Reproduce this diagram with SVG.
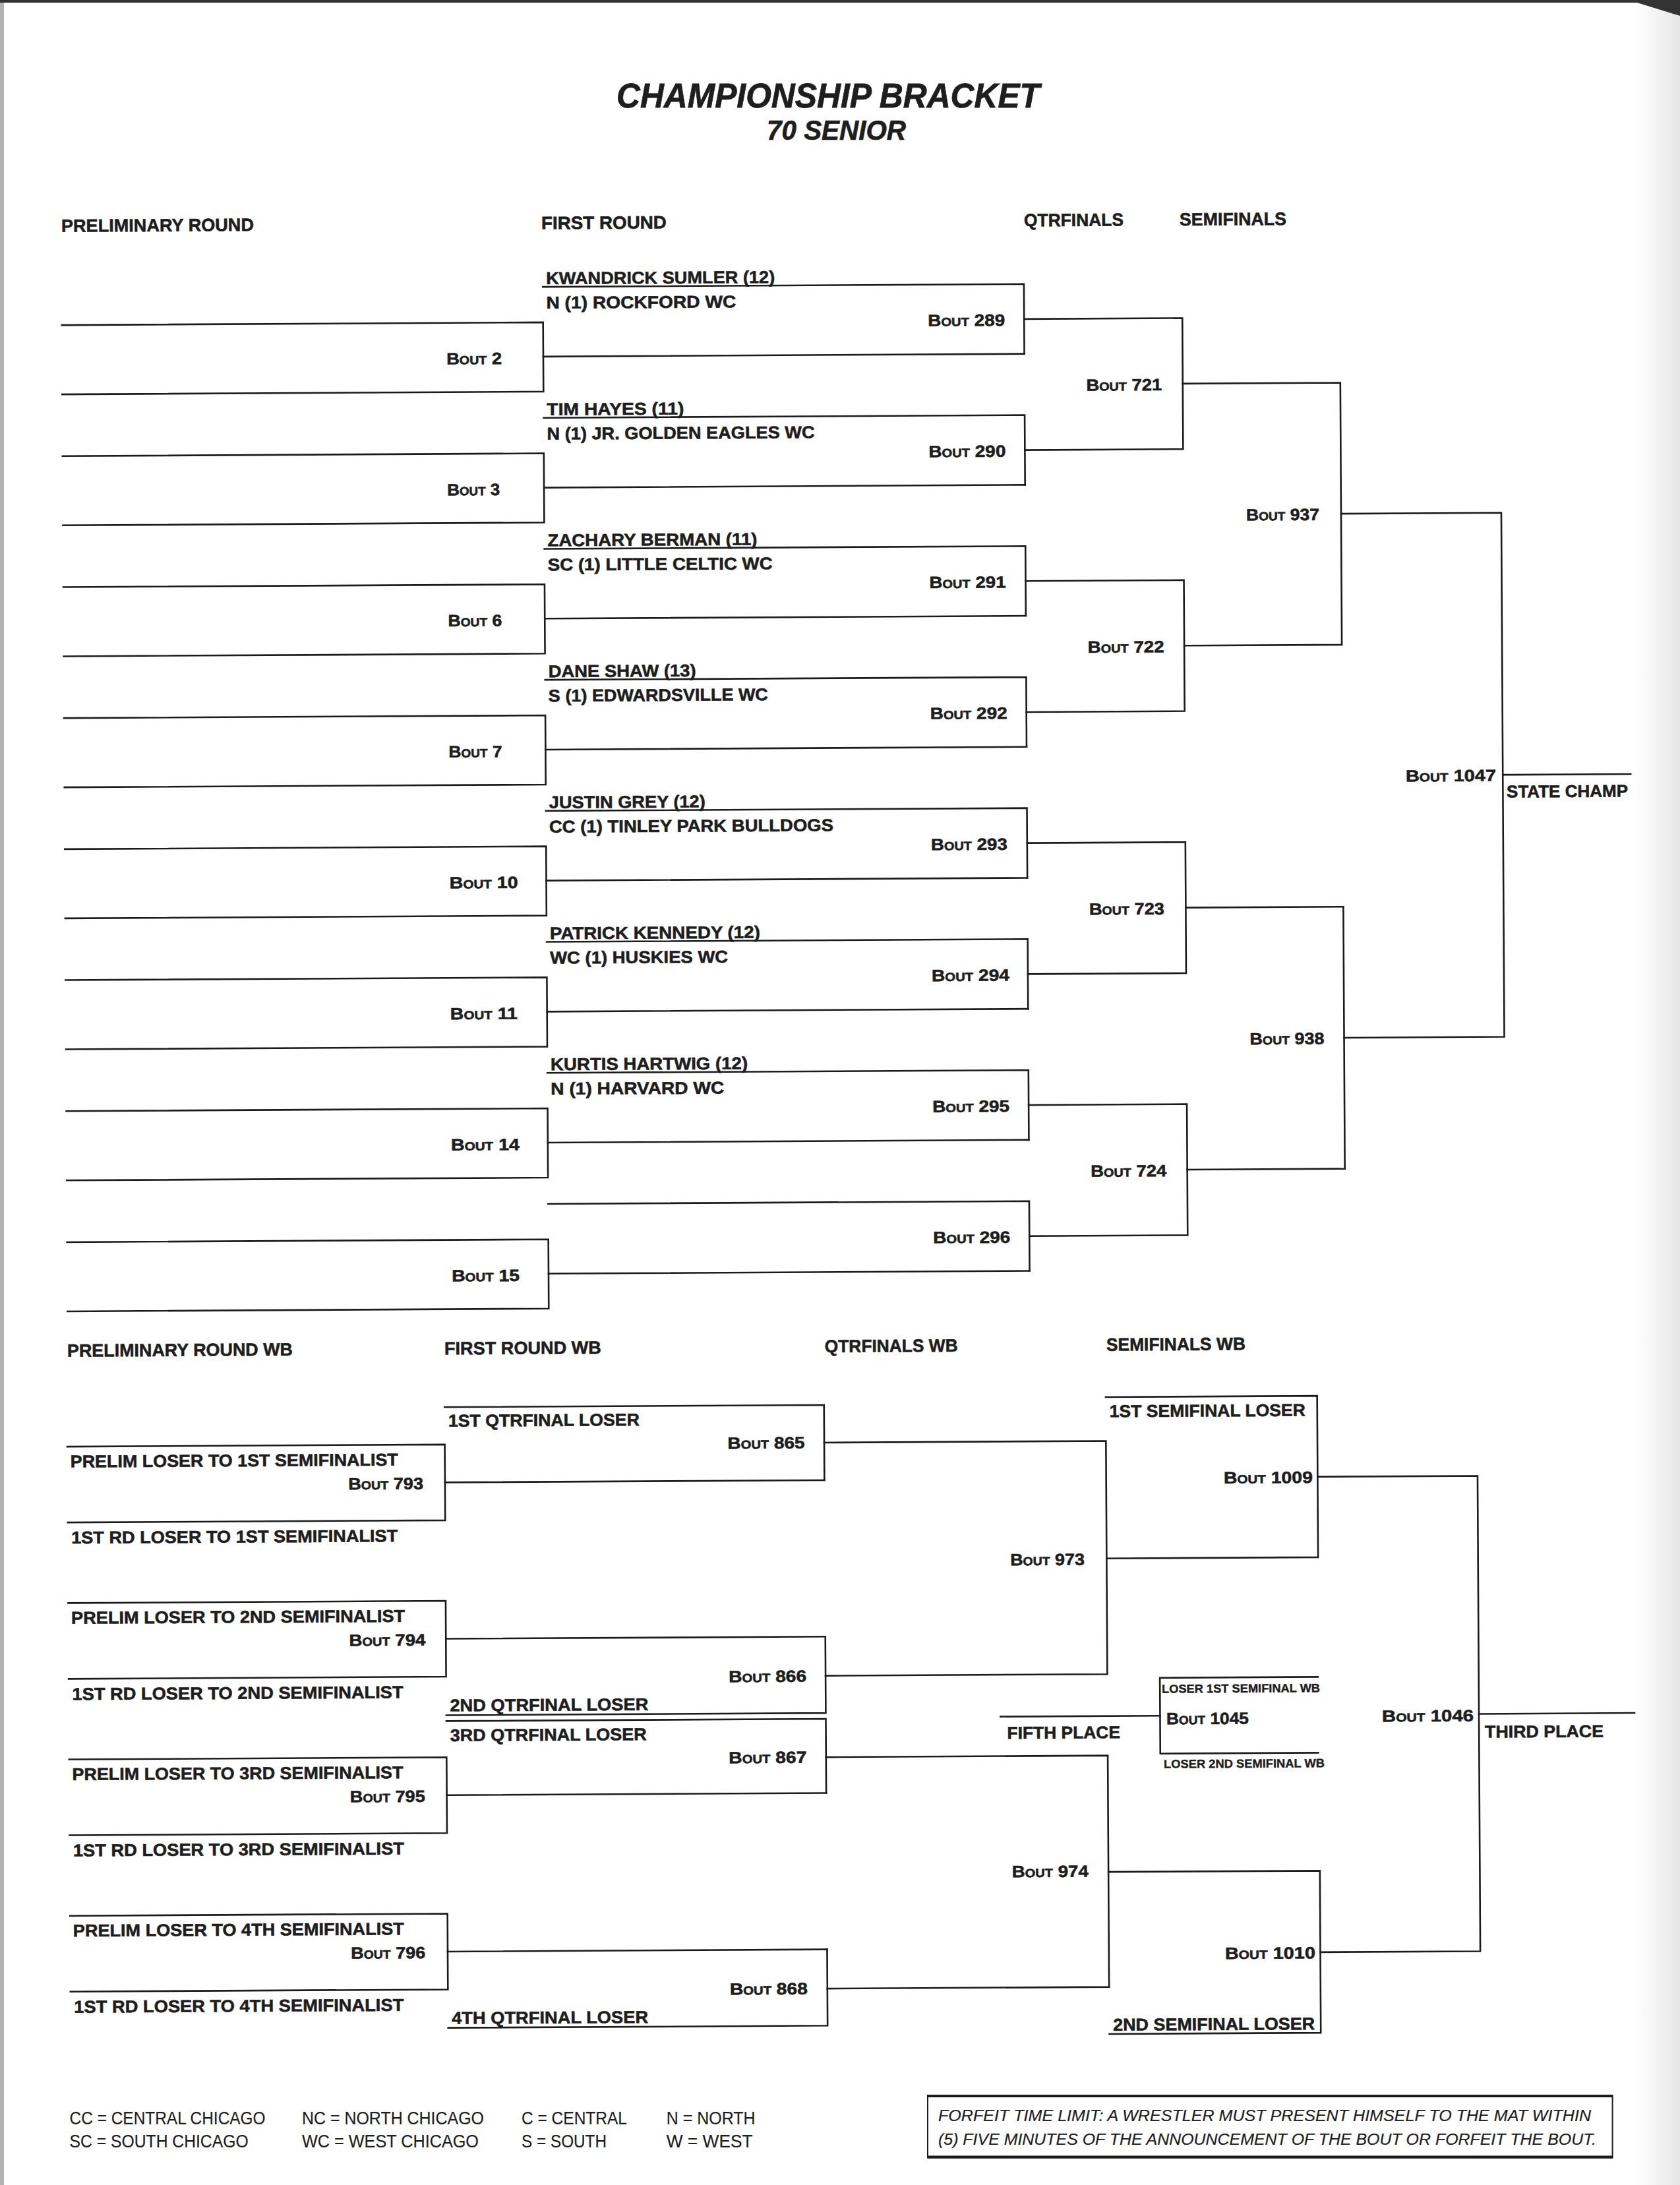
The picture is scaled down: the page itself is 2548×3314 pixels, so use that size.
<svg xmlns="http://www.w3.org/2000/svg" width="2548" height="3314" viewBox="0 0 2548 3314">
<defs>
<linearGradient id="rg" x1="0" y1="0" x2="1" y2="0"><stop offset="0" stop-color="#ffffff"/><stop offset="1" stop-color="#e6e6e6"/></linearGradient>
<style>
.l{fill:none;stroke:#1b1b1b;stroke-width:2.6;stroke-linecap:square;stroke-linejoin:miter}
text{font-family:"Liberation Sans Narrow","Liberation Sans",Arial,sans-serif;font-weight:700;fill:#1e1e1e;stroke:#1e1e1e;stroke-width:0.6}
.h{font-size:27px}
.n{font-size:26px}
.b{font-size:25px;font-variant:small-caps}
.s{font-size:18px;stroke-width:0.4}
.ti{font-size:51px;font-style:italic;stroke-width:0.8}
.st{font-size:42px;font-style:italic;stroke-width:0.7}
.f{font-size:27px;font-weight:400;stroke-width:0.2}
.fi{font-size:23px;font-weight:400;font-style:italic;stroke-width:0.2}
</style>
</defs>
<rect width="2548" height="3314" fill="#ffffff"/>
<rect x="2480" y="0" width="68" height="3314" fill="url(#rg)"/>
<rect x="0" y="0" width="6" height="3314" fill="#b3b3b3"/>
<rect x="0" y="0" width="2548" height="4" fill="#333333"/>
<polygon points="2470,0 2548,0 2548,24" fill="#333333"/>

<g id="title">
<text class="ti" x="935" y="163" textLength="642" lengthAdjust="spacingAndGlyphs">CHAMPIONSHIP BRACKET</text>
<text class="st" x="1163" y="212" textLength="211" lengthAdjust="spacingAndGlyphs">70 SENIOR</text>
</g>

<g id="page" transform="rotate(-0.33 1274 1657)">
<g id="connectors">
<path class="l" d="M100.4 486.3H830.4V591.3H100.4"/>
<path class="l" d="M100.4 685H830.4V790H100.4"/>
<path class="l" d="M100.4 883.7H830.4V988.7H100.4"/>
<path class="l" d="M100.4 1082.4H830.4V1187.4H100.4"/>
<path class="l" d="M100.4 1281.1H830.4V1386.1H100.4"/>
<path class="l" d="M100.4 1479.8H830.4V1584.8H100.4"/>
<path class="l" d="M100.4 1678.5H830.4V1783.5H100.4"/>
<path class="l" d="M100.4 1877.2H830.4V1982.2H100.4"/>
<path class="l" d="M830.4 538.3H1560"/>
<path class="l" d="M830.4 737H1560"/>
<path class="l" d="M830.4 935.7H1560"/>
<path class="l" d="M830.4 1134.4H1560"/>
<path class="l" d="M830.4 1333.1H1560"/>
<path class="l" d="M830.4 1531.8H1560"/>
<path class="l" d="M830.4 1730.5H1560"/>
<path class="l" d="M830.4 1929.2H1560"/>
<path class="l" d="M830.4 432.5H1560V538.3"/>
<path class="l" d="M830.4 631.2H1560V737"/>
<path class="l" d="M830.4 829.9H1560V935.7"/>
<path class="l" d="M830.4 1028.6H1560V1134.4"/>
<path class="l" d="M830.4 1227.3H1560V1333.1"/>
<path class="l" d="M830.4 1426H1560V1531.8"/>
<path class="l" d="M830.4 1624.7H1560V1730.5"/>
<path class="l" d="M830.4 1823.4H1560V1929.2"/>
<path class="l" d="M1560 485.5H1800V684.2H1560"/>
<path class="l" d="M1560 882.9H1800V1081.6H1560"/>
<path class="l" d="M1560 1280.3H1800V1479H1560"/>
<path class="l" d="M1560 1677.7H1800V1876.4H1560"/>
<path class="l" d="M1800 584.85H2039V982.25H1800"/>
<path class="l" d="M1800 1379.65H2039V1777.05H1800"/>
<path class="l" d="M2039 783.55H2282V1578.35H2039"/>
<path class="l" d="M2282 1180.95H2476"/>

<path class="l" d="M99 2187.4H671.5V2302.4H99"/>
<path class="l" d="M99 2424.6H671.5V2539.6H99"/>
<path class="l" d="M99 2661.8H671.5V2776.8H99"/>
<path class="l" d="M99 2899H671.5V3014H99"/>
<path class="l" d="M671.5 2244.9H1247"/>
<path class="l" d="M671.5 2482.1H1247"/>
<path class="l" d="M671.5 2719.3H1247"/>
<path class="l" d="M671.5 2956.5H1247"/>
<path class="l" d="M671.5 2130.8H1247V2244.9"/>
<path class="l" d="M1247 2482.1V2598H671.5"/>
<path class="l" d="M671.5 2606.9H1247V2719.3"/>
<path class="l" d="M1247 2956.5V3072.2H671.5"/>
<path class="l" d="M1247 2187.85H1674.3V2541.5H1247"/>
<path class="l" d="M1247 2665H1674.3V3016H1247"/>
<path class="l" d="M1674.3 2121.3H1995V2366H1674.3"/>
<path class="l" d="M1674.3 2841.5H1995V3087.3H1674.3"/>
<path class="l" d="M1995 2244H2237.6V2965H1995"/>
<path class="l" d="M2237.6 2605H2473.6"/>
<path class="l" d="M1993.6 2547.5H1754V2662.5H1993.6"/>
<path class="l" d="M1512 2605H1754"/>
</g>

<g id="headers">
<text class="h" x="100.5" y="345" textLength="292" lengthAdjust="spacingAndGlyphs">PRELIMINARY ROUND</text>
<text class="h" x="828.5" y="345" textLength="190" lengthAdjust="spacingAndGlyphs">FIRST ROUND</text>
<text class="h" x="1560.6" y="345" textLength="151" lengthAdjust="spacingAndGlyphs">QTRFINALS</text>
<text class="h" x="1796.6" y="345" textLength="162" lengthAdjust="spacingAndGlyphs">SEMIFINALS</text>
<text class="h" x="99.7" y="2051" textLength="342" lengthAdjust="spacingAndGlyphs">PRELIMINARY ROUND WB</text>
<text class="h" x="671.7" y="2051" textLength="238" lengthAdjust="spacingAndGlyphs">FIRST ROUND WB</text>
<text class="h" x="1248.5" y="2051" textLength="202" lengthAdjust="spacingAndGlyphs">QTRFINALS WB</text>
<text class="h" x="1675.7" y="2051" textLength="211" lengthAdjust="spacingAndGlyphs">SEMIFINALS WB</text>
</g>

<g id="bout-2"><text class="b" x="683.5" y="549.3" textLength="84" lengthAdjust="spacingAndGlyphs">Bout 2</text></g>
<g id="bout-3"><text class="b" x="683.5" y="748" textLength="80" lengthAdjust="spacingAndGlyphs">Bout 3</text></g>
<g id="bout-6"><text class="b" x="683.5" y="946.7" textLength="82" lengthAdjust="spacingAndGlyphs">Bout 6</text></g>
<g id="bout-7"><text class="b" x="683.5" y="1145.4" textLength="81" lengthAdjust="spacingAndGlyphs">Bout 7</text></g>
<g id="bout-10"><text class="b" x="683.5" y="1344.1" textLength="104" lengthAdjust="spacingAndGlyphs">Bout 10</text></g>
<g id="bout-11"><text class="b" x="683.5" y="1542.8" textLength="102" lengthAdjust="spacingAndGlyphs">Bout 11</text></g>
<g id="bout-14"><text class="b" x="683.5" y="1741.5" textLength="104" lengthAdjust="spacingAndGlyphs">Bout 14</text></g>
<g id="bout-15"><text class="b" x="683.5" y="1940.2" textLength="103" lengthAdjust="spacingAndGlyphs">Bout 15</text></g>

<g id="bout-289">
<text class="n" x="835.3" y="428.5" textLength="347" lengthAdjust="spacingAndGlyphs">KWANDRICK SUMLER (12)</text>
<text class="n" x="835.3" y="465.5" textLength="288" lengthAdjust="spacingAndGlyphs">N (1) ROCKFORD WC</text>
<text class="b" x="1414" y="495.5" textLength="117" lengthAdjust="spacingAndGlyphs">Bout 289</text>
</g>
<g id="bout-290">
<text class="n" x="835.3" y="627.2" textLength="208" lengthAdjust="spacingAndGlyphs">TIM HAYES (11)</text>
<text class="n" x="835.3" y="664.2" textLength="406" lengthAdjust="spacingAndGlyphs">N (1) JR. GOLDEN EAGLES WC</text>
<text class="b" x="1414" y="694.2" textLength="117" lengthAdjust="spacingAndGlyphs">Bout 290</text>
</g>
<g id="bout-291">
<text class="n" x="835.3" y="825.9" textLength="318" lengthAdjust="spacingAndGlyphs">ZACHARY BERMAN (11)</text>
<text class="n" x="835.3" y="862.9" textLength="341" lengthAdjust="spacingAndGlyphs">SC (1) LITTLE CELTIC WC</text>
<text class="b" x="1414" y="892.9" textLength="116" lengthAdjust="spacingAndGlyphs">Bout 291</text>
</g>
<g id="bout-292">
<text class="n" x="835.3" y="1024.6" textLength="224" lengthAdjust="spacingAndGlyphs">DANE SHAW (13)</text>
<text class="n" x="835.3" y="1061.6" textLength="333" lengthAdjust="spacingAndGlyphs">S (1) EDWARDSVILLE WC</text>
<text class="b" x="1414" y="1091.6" textLength="117" lengthAdjust="spacingAndGlyphs">Bout 292</text>
</g>
<g id="bout-293">
<text class="n" x="835.3" y="1223.3" textLength="237" lengthAdjust="spacingAndGlyphs">JUSTIN GREY (12)</text>
<text class="n" x="835.3" y="1260.3" textLength="431" lengthAdjust="spacingAndGlyphs">CC (1) TINLEY PARK BULLDOGS</text>
<text class="b" x="1414" y="1290.3" textLength="116" lengthAdjust="spacingAndGlyphs">Bout 293</text>
</g>
<g id="bout-294">
<text class="n" x="835.3" y="1422" textLength="319" lengthAdjust="spacingAndGlyphs">PATRICK KENNEDY (12)</text>
<text class="n" x="835.3" y="1459" textLength="270" lengthAdjust="spacingAndGlyphs">WC (1) HUSKIES WC</text>
<text class="b" x="1414" y="1489" textLength="118" lengthAdjust="spacingAndGlyphs">Bout 294</text>
</g>
<g id="bout-295">
<text class="n" x="835.3" y="1620.7" textLength="299" lengthAdjust="spacingAndGlyphs">KURTIS HARTWIG (12)</text>
<text class="n" x="835.3" y="1657.7" textLength="263" lengthAdjust="spacingAndGlyphs">N (1) HARVARD WC</text>
<text class="b" x="1414" y="1687.7" textLength="117" lengthAdjust="spacingAndGlyphs">Bout 295</text>
</g>
<g id="bout-296">
<text class="b" x="1414" y="1886.4" textLength="117" lengthAdjust="spacingAndGlyphs">Bout 296</text>
</g>

<g id="bout-721"><text class="b" x="1653.5" y="594.85" textLength="115" lengthAdjust="spacingAndGlyphs">Bout 721</text></g>
<g id="bout-722"><text class="b" x="1653.5" y="992.25" textLength="116" lengthAdjust="spacingAndGlyphs">Bout 722</text></g>
<g id="bout-723"><text class="b" x="1653.5" y="1389.65" textLength="114" lengthAdjust="spacingAndGlyphs">Bout 723</text></g>
<g id="bout-724"><text class="b" x="1653.5" y="1787.05" textLength="115" lengthAdjust="spacingAndGlyphs">Bout 724</text></g>
<g id="bout-937"><text class="b" x="1895" y="793.05" textLength="111" lengthAdjust="spacingAndGlyphs">Bout 937</text></g>
<g id="bout-938"><text class="b" x="1896" y="1587.85" textLength="113" lengthAdjust="spacingAndGlyphs">Bout 938</text></g>
<g id="bout-1047">
<text class="b" x="2134.7" y="1190.4" textLength="137" lengthAdjust="spacingAndGlyphs">Bout 1047</text>
<text class="n" x="2287.6" y="1215.4" textLength="184" lengthAdjust="spacingAndGlyphs">STATE CHAMP</text>
</g>

<g id="bout-793">
<text class="n" x="103.5" y="2218.9" textLength="497" lengthAdjust="spacingAndGlyphs">PRELIM LOSER TO 1ST SEMIFINALIST</text>
<text class="b" x="524.7" y="2254.9" textLength="114" lengthAdjust="spacingAndGlyphs">Bout 793</text>
<text class="n" x="104.3" y="2334.4" textLength="495" lengthAdjust="spacingAndGlyphs">1ST RD LOSER TO 1ST SEMIFINALIST</text>
</g>
<g id="bout-794">
<text class="n" x="103.5" y="2456.1" textLength="506" lengthAdjust="spacingAndGlyphs">PRELIM LOSER TO 2ND SEMIFINALIST</text>
<text class="b" x="524.7" y="2492.1" textLength="116" lengthAdjust="spacingAndGlyphs">Bout 794</text>
<text class="n" x="104.3" y="2571.6" textLength="502" lengthAdjust="spacingAndGlyphs">1ST RD LOSER TO 2ND SEMIFINALIST</text>
</g>
<g id="bout-795">
<text class="n" x="103.5" y="2693.3" textLength="502" lengthAdjust="spacingAndGlyphs">PRELIM LOSER TO 3RD SEMIFINALIST</text>
<text class="b" x="524.7" y="2729.3" textLength="114" lengthAdjust="spacingAndGlyphs">Bout 795</text>
<text class="n" x="104.3" y="2808.8" textLength="502" lengthAdjust="spacingAndGlyphs">1ST RD LOSER TO 3RD SEMIFINALIST</text>
</g>
<g id="bout-796">
<text class="n" x="103.5" y="2930.5" textLength="502" lengthAdjust="spacingAndGlyphs">PRELIM LOSER TO 4TH SEMIFINALIST</text>
<text class="b" x="524.7" y="2966.5" textLength="113" lengthAdjust="spacingAndGlyphs">Bout 796</text>
<text class="n" x="104.3" y="3046" textLength="500" lengthAdjust="spacingAndGlyphs">1ST RD LOSER TO 4TH SEMIFINALIST</text>
</g>

<g id="bout-865">
<text class="n" x="677" y="2160.4" textLength="290" lengthAdjust="spacingAndGlyphs">1ST QTRFINAL LOSER</text>
<text class="b" x="1100.5" y="2196.4" textLength="117" lengthAdjust="spacingAndGlyphs">Bout 865</text>
</g>
<g id="bout-866">
<text class="n" x="677" y="2592.2" textLength="301" lengthAdjust="spacingAndGlyphs">2ND QTRFINAL LOSER</text>
<text class="b" x="1100" y="2550.4" textLength="118" lengthAdjust="spacingAndGlyphs">Bout 866</text>
</g>
<g id="bout-867">
<text class="n" x="677" y="2637.5" textLength="298" lengthAdjust="spacingAndGlyphs">3RD QTRFINAL LOSER</text>
<text class="b" x="1099.5" y="2673.4" textLength="118" lengthAdjust="spacingAndGlyphs">Bout 867</text>
</g>
<g id="bout-868">
<text class="n" x="677" y="3066.4" textLength="298" lengthAdjust="spacingAndGlyphs">4TH QTRFINAL LOSER</text>
<text class="b" x="1099" y="3024.4" textLength="118" lengthAdjust="spacingAndGlyphs">Bout 868</text>
</g>

<g id="bout-973"><text class="b" x="1528" y="2375.8" textLength="113" lengthAdjust="spacingAndGlyphs">Bout 973</text></g>
<g id="bout-974"><text class="b" x="1528" y="2848.8" textLength="116" lengthAdjust="spacingAndGlyphs">Bout 974</text></g>

<g id="bout-1009">
<text class="n" x="1680" y="2151.7" textLength="297" lengthAdjust="spacingAndGlyphs">1ST SEMIFINAL LOSER</text>
<text class="b" x="1852.6" y="2253.3" textLength="135" lengthAdjust="spacingAndGlyphs">Bout 1009</text>
</g>
<g id="bout-1010">
<text class="b" x="1850.4" y="2974.5" textLength="137" lengthAdjust="spacingAndGlyphs">Bout 1010</text>
<text class="n" x="1680" y="3082.3" textLength="306" lengthAdjust="spacingAndGlyphs">2ND SEMIFINAL LOSER</text>
</g>
<g id="bout-1045">
<text class="s" x="1756.8" y="2570.5" textLength="240" lengthAdjust="spacingAndGlyphs">LOSER 1ST SEMIFINAL WB</text>
<text class="b" x="1763.5" y="2618.2" textLength="125" lengthAdjust="spacingAndGlyphs">Bout 1045</text>
<text class="s" x="1759.1" y="2684.5" textLength="244" lengthAdjust="spacingAndGlyphs">LOSER 2ND SEMIFINAL WB</text>
<text class="n" x="1521.9" y="2638.7" textLength="171.5" lengthAdjust="spacingAndGlyphs">FIFTH PLACE</text>
</g>
<g id="bout-1046">
<text class="b" x="2090.5" y="2616.1" textLength="139" lengthAdjust="spacingAndGlyphs">Bout 1046</text>
<text class="n" x="2246.4" y="2641.2" textLength="180" lengthAdjust="spacingAndGlyphs">THIRD PLACE</text>
</g>
</g>

<g id="legend">
<text class="f" x="105.6" y="3222" textLength="297" lengthAdjust="spacingAndGlyphs">CC = CENTRAL CHICAGO</text>
<text class="f" x="458" y="3222" textLength="276" lengthAdjust="spacingAndGlyphs">NC = NORTH CHICAGO</text>
<text class="f" x="791" y="3222" textLength="160" lengthAdjust="spacingAndGlyphs">C = CENTRAL</text>
<text class="f" x="1010.7" y="3222" textLength="135" lengthAdjust="spacingAndGlyphs">N = NORTH</text>
<text class="f" x="105.6" y="3257" textLength="271" lengthAdjust="spacingAndGlyphs">SC = SOUTH CHICAGO</text>
<text class="f" x="458" y="3257" textLength="268" lengthAdjust="spacingAndGlyphs">WC = WEST CHICAGO</text>
<text class="f" x="791" y="3257" textLength="129" lengthAdjust="spacingAndGlyphs">S = SOUTH</text>
<text class="f" x="1010.7" y="3257" textLength="131" lengthAdjust="spacingAndGlyphs">W = WEST</text>
</g>

<g id="forfeit-note">
<rect x="1407" y="3178" width="1038.6" height="94.7" fill="none" stroke="#1b1b1b" stroke-width="2"/>
<line x1="1407" y1="3179" x2="2445.6" y2="3179" stroke="#1b1b1b" stroke-width="4"/>
<line x1="1407" y1="3271.5" x2="2445.6" y2="3271.5" stroke="#1b1b1b" stroke-width="4"/>
<text class="fi" x="1423" y="3216.7" textLength="990" lengthAdjust="spacingAndGlyphs">FORFEIT TIME LIMIT: A WRESTLER MUST PRESENT HIMSELF TO THE MAT WITHIN</text>
<text class="fi" x="1423" y="3252.7" textLength="998" lengthAdjust="spacingAndGlyphs">(5) FIVE MINUTES OF THE ANNOUNCEMENT OF THE BOUT OR FORFEIT THE BOUT.</text>
</g>
</svg>
